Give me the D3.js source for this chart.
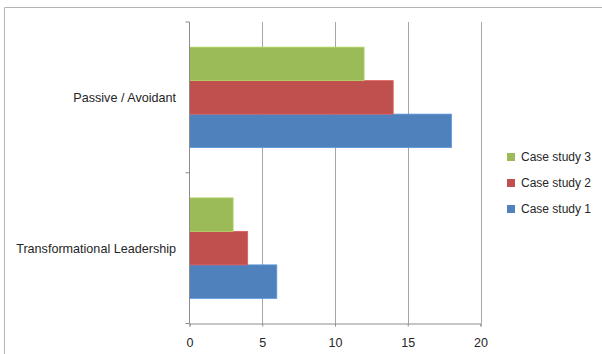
<!DOCTYPE html>
<html>
<head>
<meta charset="utf-8">
<script src="https://cdn.jsdelivr.net/npm/d3@7"></script>
<style>
  html, body { margin: 0; padding: 0; background: #fff; }
  svg { display: block; }
  text { font-family: "Liberation Sans", Arial, sans-serif; fill: #262626; }
</style>
</head>
<body>
<svg id="chart" width="602" height="354"></svg>
<script>
// Leadership style scores per case study
const categories = ["Passive / Avoidant", "Transformational Leadership"];
const seriesNames = ["Case study 1", "Case study 2", "Case study 3"];
const caseStudy1 = [18, 6];
const caseStudy2 = [14, 4];
const caseStudy3 = [12, 3];
const xTicks = [0, 5, 10, 15, 20];
const colors = ["#4F81BD", "#C0504D", "#9BBB59"];

const seriesValues = [caseStudy1, caseStudy2, caseStudy3];

const svg = d3.select("#chart");
const W = 602, H = 354;

// outer chart frame (only top and left edges fall inside the view)
svg.append("path")
  .attr("d", `M4.5,${H} L4.5,7.5 L${W},7.5`)
  .attr("fill", "none")
  .attr("stroke", "#b3b3b3")
  .attr("stroke-width", 1);

const plot = { left: 189.5, right: 480.5, top: 22, bottom: 323.5 };

const x = d3.scaleLinear().domain([0, 20]).range([plot.left, plot.right]);
const y = d3.scaleBand().domain(categories).range([plot.top, plot.bottom]);

// inner band for the three bars: gap width 150% of a single bar
const inner = d3.scaleBand()
  .domain([2, 1, 0]) // series 3 on top, series 1 at bottom
  .range([0, y.bandwidth()])
  .paddingOuter(0.75)
  .paddingInner(0);

// vertical gridlines
svg.append("g")
  .selectAll("line")
  .data(xTicks.slice(1))
  .join("line")
  .attr("x1", d => Math.round(x(d)) + 0.5)
  .attr("x2", d => Math.round(x(d)) + 0.5)
  .attr("y1", plot.top)
  .attr("y2", plot.bottom)
  .attr("stroke", "#a6a6a6")
  .attr("stroke-width", 1);

// bars
const groups = svg.append("g")
  .selectAll("g")
  .data(categories)
  .join("g")
  .attr("transform", d => `translate(0,${y(d)})`);

groups.selectAll("rect")
  .data((c, ci) => seriesValues.map((vals, si) => ({ si, v: vals[ci] })))
  .join("rect")
  .attr("x", x(0))
  .attr("y", d => inner(d.si))
  .attr("width", d => x(d.v) - x(0))
  .attr("height", inner.bandwidth())
  .attr("fill", d => colors[d.si])
  .attr("stroke", d => d3.color(colors[d.si]).brighter(0.4))
  .attr("stroke-width", 0.8);

// x axis
const xAxis = d3.axisBottom(x).tickValues(xTicks).tickSize(3).tickPadding(12).tickFormat(d3.format("d"));
const gx = svg.append("g")
  .attr("transform", `translate(0,${plot.bottom})`)
  .call(xAxis);
gx.select(".domain").attr("stroke", "#8c8c8c");
gx.selectAll(".tick line").attr("stroke", "#8c8c8c");
gx.selectAll(".tick text")
  .style("font-family", "Liberation Sans, Arial, sans-serif")
  .style("font-size", "12.5px")
  .attr("fill", "#262626");

// y axis line with boundary ticks
const yBounds = [plot.top, plot.top + y.bandwidth(), plot.bottom];
svg.append("line")
  .attr("x1", plot.left).attr("x2", plot.left)
  .attr("y1", plot.top).attr("y2", plot.bottom)
  .attr("stroke", "#8c8c8c");
svg.append("g").selectAll("line")
  .data(yBounds)
  .join("line")
  .attr("x1", plot.left - 4).attr("x2", plot.left)
  .attr("y1", d => d).attr("y2", d => d)
  .attr("stroke", "#8c8c8c");

// category labels
svg.append("g").selectAll("text")
  .data(categories)
  .join("text")
  .attr("x", 176)
  .attr("y", d => y(d) + y.bandwidth() / 2)
  .attr("dy", "0.35em")
  .attr("text-anchor", "end")
  .style("font-size", "12.6px")
  .text(d => d);

// legend (series 3 first)
const legendOrder = [2, 1, 0];
const legend = svg.append("g");
const lg = legend.selectAll("g")
  .data(legendOrder)
  .join("g")
  .attr("transform", (d, i) => `translate(507,${157 + i * 26})`);
lg.append("rect")
  .attr("x", 0).attr("y", -4)
  .attr("width", 8).attr("height", 8)
  .attr("fill", d => colors[d]);
lg.append("text")
  .attr("x", 14)
  .attr("y", 0)
  .attr("dy", "0.35em")
  .style("font-size", "12px")
  .text(d => seriesNames[d]);
</script>
</body>
</html>
